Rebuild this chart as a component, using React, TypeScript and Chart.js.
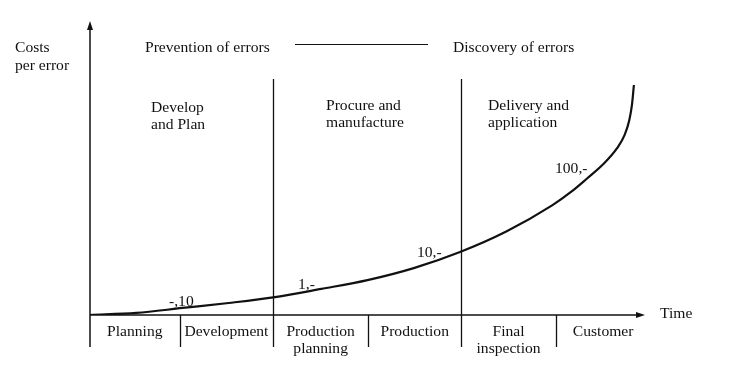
import React, { useEffect, useRef } from "react";
import { Chart, registerables } from "chart.js";

Chart.register(...registerables);

// Time in phase units (one unit per phase), cost height in relative units
const curveX = [0, 0.5, 1, 1.5, 2, 2.5, 3, 3.5, 4, 4.5, 5, 5.2, 5.37, 5.55, 5.7, 5.78, 5.83, 5.86, 5.88];
const curveY = [0, 0.7, 2.4, 4.1, 6.1, 8.9, 11.9, 16.0, 21.5, 28.5, 37.5, 42.0, 46.5, 51.5, 57.0, 61.5, 66.5, 72.0, 78.5];

const phaseLabels = [["Planning"], ["Development"], ["Production", "planning"], ["Production"], ["Final", "inspection"], ["Customer"]];
const phaseBounds = [0, 0.968, 1.982, 3.005, 4.016, 5.034, 6.06];
const majorBounds = [1.982, 4.016];

const stageLabels = [["Develop", "and Plan"], ["Procure and", "manufacture"], ["Delivery and", "application"]];
const costLabels = ["-,10", "1,-", "10,-", "100,-"];

const INK = "#111";
const FONT = '15.6px "Liberation Serif", "Times New Roman", serif';

const overlay = {
  id: "overlay",
  afterDraw(chart: any) {
    const ctx = chart.ctx as CanvasRenderingContext2D;
    const { left, right, top, bottom } = chart.chartArea;
    const xs = chart.scales.x;
    const px = (v: number) => xs.getPixelForValue(v);
    const rowBottom = bottom + 32;
    ctx.save();
    ctx.strokeStyle = INK;
    ctx.fillStyle = INK;
    ctx.lineWidth = 1.5;
    // y axis
    ctx.beginPath();
    ctx.moveTo(left, top + 6);
    ctx.lineTo(left, rowBottom);
    ctx.stroke();
    ctx.beginPath();
    ctx.moveTo(left, top - 1);
    ctx.lineTo(left - 3, top + 8);
    ctx.lineTo(left + 3, top + 8);
    ctx.closePath();
    ctx.fill();
    // x axis
    ctx.beginPath();
    ctx.moveTo(left, bottom);
    ctx.lineTo(right - 6, bottom);
    ctx.stroke();
    ctx.beginPath();
    ctx.moveTo(right, bottom);
    ctx.lineTo(right - 9, bottom - 3);
    ctx.lineTo(right - 9, bottom + 3);
    ctx.closePath();
    ctx.fill();
    // dividers
    ctx.lineWidth = 1.3;
    for (let i = 1; i < phaseBounds.length - 1; i++) {
      const b = phaseBounds[i];
      const x = Math.round(px(b)) + 0.5;
      const major = majorBounds.includes(b);
      ctx.beginPath();
      ctx.moveTo(x, major ? 79 : bottom);
      ctx.lineTo(x, rowBottom);
      ctx.stroke();
    }
    // phase labels
    ctx.font = FONT;
    ctx.textAlign = "center";
    ctx.textBaseline = "alphabetic";
    phaseLabels.forEach((lines, i) => {
      const cx = (px(phaseBounds[i]) + px(phaseBounds[i + 1])) / 2;
      lines.forEach((t, j) => ctx.fillText(t, cx, bottom + 21 + j * 17));
    });
    // header texts
    ctx.textAlign = "left";
    ctx.fillText("Costs", 15, 52);
    ctx.fillText("per error", 15, 70);
    ctx.fillText("Prevention of errors", 145, 52);
    ctx.fillText("Discovery of errors", 453, 52);
    ctx.lineWidth = 1.2;
    ctx.beginPath();
    ctx.moveTo(295, 44.5);
    ctx.lineTo(428, 44.5);
    ctx.stroke();
    const stageX = [151, 326, 488];
    const stageY = [112, 110, 110];
    stageLabels.forEach((lines, i) => {
      lines.forEach((t, j) => ctx.fillText(t, stageX[i], stageY[i] + j * 17));
    });
    ctx.fillText("Time", 660, 318);
    // cost labels along the curve
    const costPos = [[169, 306], [298, 289], [417, 257], [555, 173]];
    costLabels.forEach((t, i) => ctx.fillText(t, costPos[i][0], costPos[i][1]));
    ctx.restore();
  },
};

export default function App() {
  const ref = useRef<HTMLCanvasElement>(null);
  useEffect(() => {
    document.body.style.margin = "0";
    const chart = new Chart(ref.current!, {
      type: "line",
      data: {
        datasets: [
          {
            data: curveX.map((x, i) => ({ x, y: curveY[i] })),
            borderColor: INK,
            borderWidth: 2.2,
            pointRadius: 0,
            cubicInterpolationMode: "monotone",
            fill: false,
          },
        ],
      },
      options: {
        animation: false,
        responsive: false,
        layout: { padding: { left: 90, right: 102, top: 22, bottom: 76 } },
        plugins: { legend: { display: false }, tooltip: { enabled: false } },
        scales: {
          x: { type: "linear", min: 0, max: 6, display: false },
          y: { type: "linear", min: 0, max: 100, display: false },
        },
      },
      plugins: [overlay],
    });
    return () => chart.destroy();
  }, []);
  return (
    <div style={{ position: "fixed", left: 0, top: 0, width: 747, height: 391, background: "#fff" }}>
      <canvas ref={ref} width={747} height={391} />
    </div>
  );
}
